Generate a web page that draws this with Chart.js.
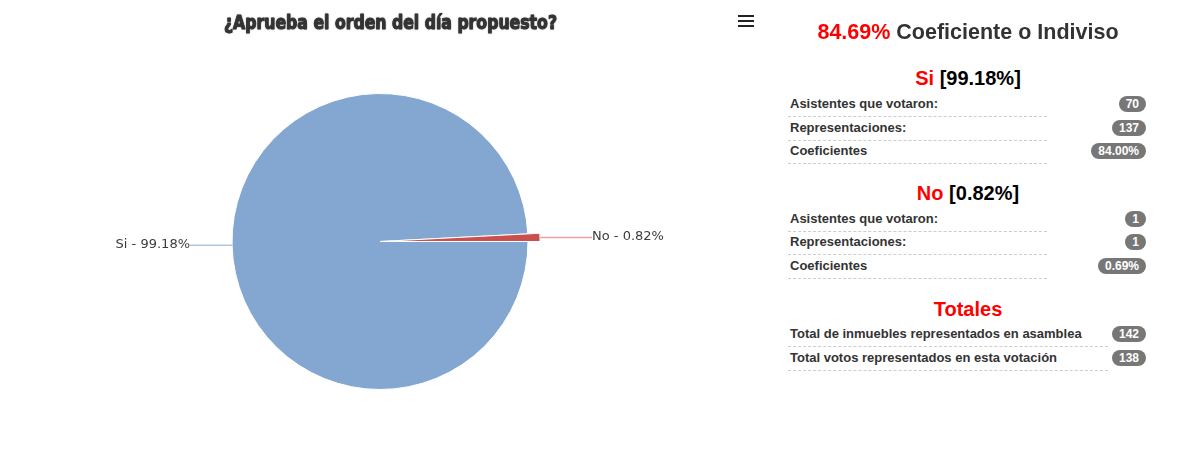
<!DOCTYPE html>
<html>
<head>
<meta charset="utf-8">
<script src="https://cdn.jsdelivr.net/npm/chart.js@4"></script>
<style>
  html, body { margin:0; padding:0; background:#fff; width:1197px; height:469px; overflow:hidden; }
  #wrap { position:absolute; left:0; top:0; width:780px; height:469px; }
  .menu { position:absolute; left:738px; width:16px; height:2px; background:#222; }
  .panel { font-family:"Liberation Sans", Arial, sans-serif; }
  .center { position:absolute; left:788px; width:360px; text-align:center; font-weight:bold; white-space:nowrap; }
  .red { color:#f00; }
  .lbl { position:absolute; left:788px; padding-left:2px; height:20px; line-height:16px; font-size:13px; font-weight:bold; color:#333; border-bottom:1px dashed #ccc; white-space:nowrap; box-sizing:content-box; }
  .badge { position:absolute; right:51px; height:16px; line-height:16px; padding:0 7px; border-radius:10px; background:#777; color:#fff; font-size:12px; font-weight:bold; }
</style>
</head>
<body>
<div id="wrap"><canvas id="c" width="780" height="469"></canvas></div>
<div class="menu" style="top:15px"></div>
<div class="menu" style="top:20px"></div>
<div class="menu" style="top:25px"></div>
<div id="panel" class="panel"></div>
<script>
// ---- chart data ----
const chartTitle = '¿Aprueba el orden del día propuesto?';
const categories = ['Si', 'No'];
const percentages = [99.18, 0.82];
const sliceColors = ['#84A7D1', '#C8514E'];
const connectorColors = ['#B0C6E3', '#E8A4A3'];

// ---- panel data ----
const headerValue = '84.69%';
const headerText = 'Coeficiente o Indiviso';
const rowLabels = ['Asistentes que votaron:', 'Representaciones:', 'Coeficientes'];
const siValues = ['70', '137', '84.00%'];
const noValues = ['1', '1', '0.69%'];
const totalLabels = ['Total de inmuebles representados en asamblea', 'Total votos representados en esta votación'];
const totalValues = ['142', '138'];

// ---- build panel ----
const panel = document.getElementById('panel');
function addCenter(html, yc, size) {
  const d = document.createElement('div');
  d.className = 'center';
  d.style.top = (yc - 12) + 'px';
  d.style.lineHeight = '24px';
  d.style.fontSize = size + 'px';
  d.innerHTML = html;
  panel.appendChild(d);
}
function addRow(label, value, yc, width) {
  const l = document.createElement('div');
  l.className = 'lbl';
  l.style.top = (yc - 8) + 'px';
  l.style.width = (width - 2) + 'px';
  l.textContent = label;
  panel.appendChild(l);
  const b = document.createElement('div');
  b.className = 'badge';
  b.style.top = (yc - 8) + 'px';
  b.textContent = value;
  panel.appendChild(b);
}
addCenter('<span class="red">' + headerValue + '</span> <span style="color:#333">' + headerText + '</span>', 32, 21.5);
addCenter('<span class="red">' + categories[0] + '</span> <span style="color:#000">[' + percentages[0].toFixed(2) + '%]</span>', 78, 20);
[104, 128, 151].forEach((y, i) => addRow(rowLabels[i], siValues[i], y, 259));
addCenter('<span class="red">' + categories[1] + '</span> <span style="color:#000">[' + percentages[1].toFixed(2) + '%]</span>', 193, 20);
[219, 242, 266].forEach((y, i) => addRow(rowLabels[i], noValues[i], y, 259));
addCenter('<span class="red">Totales</span>', 309, 20);
[334, 358].forEach((y, i) => addRow(totalLabels[i], totalValues[i], y, 320));

// ---- plugins ----
const hoverGrow = {
  id: 'hoverGrow',
  afterDatasetsUpdate(chart) {
    const el = chart.getDatasetMeta(0).data[categories.indexOf('No')];
    if (el && !el._grown) { el.outerRadius += 12; el._grown = true; }
  }
};
const titlePlugin = {
  id: 'titlePlugin',
  afterDraw(chart) {
    const ctx = chart.ctx;
    ctx.save();
    ctx.font = 'bold 19px "DejaVu Sans Condensed", "Liberation Sans Narrow", sans-serif';
    const w = ctx.measureText(chartTitle).width;
    const target = 333;
    ctx.translate(390.5, 29);
    ctx.scale(target / w, 1);
    ctx.textAlign = 'center';
    ctx.textBaseline = 'alphabetic';
    ctx.shadowColor = 'rgba(0,0,0,0.35)';
    ctx.shadowBlur = 1.5;
    ctx.fillStyle = '#333';
    ctx.strokeStyle = '#333';
    ctx.lineWidth = 0.9;
    ctx.lineJoin = 'round';
    ctx.strokeText(chartTitle, 0, 0);
    ctx.fillText(chartTitle, 0, 0);
    ctx.restore();
  }
};
const labelPlugin = {
  id: 'labelPlugin',
  afterDatasetsDraw(chart) {
    const ctx = chart.ctx;
    const meta = chart.getDatasetMeta(0);
    const baseR = meta.data[0].outerRadius;
    ctx.save();
    ctx.font = '13px "DejaVu Sans", sans-serif';
    ctx.textBaseline = 'middle';
    meta.data.forEach((el, i) => {
      const mid = (el.startAngle + el.endAngle) / 2;
      const c = Math.cos(mid), s = Math.sin(mid);
      const px = el.x + c * el.outerRadius;
      const py = el.y + s * el.outerRadius;
      const right = c > 0;
      const lx = el.x + (right ? baseR + 64 : -(baseR + 42));
      ctx.strokeStyle = connectorColors[i];
      ctx.lineWidth = 1.5;
      ctx.beginPath();
      ctx.moveTo(px, py);
      ctx.lineTo(lx, py);
      ctx.stroke();
      ctx.fillStyle = '#3c3c3c';
      ctx.textAlign = right ? 'left' : 'right';
      ctx.fillText(categories[i] + ' - ' + percentages[i].toFixed(2) + '%', lx, py - 1);
    });
    ctx.restore();
  }
};

new Chart(document.getElementById('c'), {
  type: 'pie',
  data: {
    labels: categories,
    datasets: [{
      data: percentages,
      backgroundColor: sliceColors,
      borderColor: '#ffffff',
      borderWidth: 1
    }]
  },
  options: {
    responsive: false,
    animation: false,
    events: [],
    rotation: 90,
    layout: { padding: { top: 93, bottom: 79, left: 0, right: 20 } },
    plugins: { legend: { display: false }, tooltip: { enabled: false }, title: { display: false } }
  },
  plugins: [hoverGrow, labelPlugin, titlePlugin]
});
</script>
</body>
</html>
